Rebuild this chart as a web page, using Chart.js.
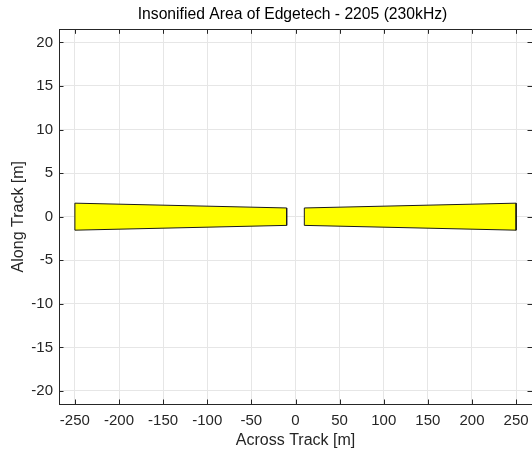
<!DOCTYPE html>
<html>
<head>
<meta charset="utf-8">
<script src="https://cdn.jsdelivr.net/npm/chart.js@4.4.1/dist/chart.umd.min.js"></script>
<style>
  html, body { margin: 0; padding: 0; background: #fff; }
  canvas { display: block; }
</style>
</head>
<body>
<canvas id="beamChart" width="532" height="452"></canvas>
<script>
// axis ticks
const xTicks = [-250, -200, -150, -100, -50, 0, 50, 100, 150, 200, 250];
const yTicks = [-20, -15, -10, -5, 0, 5, 10, 15, 20];

// port / starboard beam footprints (closed polygons, metres)
const portX = [-250, -10, -10, -250, -250];
const portY = [1.55, 1.0, -1.0, -1.55, 1.55];
const stbdX = [10, 250, 250, 10, 10];
const stbdY = [1.0, 1.55, -1.55, -1.0, 1.0];

const axisColor = "#262626";
const gridColor = "#e6e6e6";
const fontFamily = "'Liberation Sans', Arial, sans-serif";

function toPoints(xs, ys) {
    return xs.map((x, i) => ({ x: x, y: ys[i] }));
}

function beam(xs, ys) {
    return {
        data: toPoints(xs, ys),
        showLine: true,
        pointRadius: 0,
        borderColor: "#1a1a1a",
        borderWidth: 1,
        backgroundColor: "#ffff00",
        fill: "shape",
        tension: 0
    };
}

// MATLAB style box with inward tick marks, title centred over the axes
const boxPlugin = {
    id: "box",
    afterLayout(chart) {
        const t = chart.titleBlock;
        if (t) {
            t.left = chart.chartArea.left - 6;
            t.right = chart.chartArea.right;
        }
    },
    afterDraw(chart) {
        const ctx = chart.ctx;
        const a = chart.chartArea;
        const xs = chart.scales.x;
        const ys = chart.scales.y;
        const len = 4.5;
        ctx.save();
        ctx.strokeStyle = axisColor;
        ctx.lineWidth = 1;
        ctx.beginPath();
        xTicks.forEach(v => {
            const px = Math.round(xs.getPixelForValue(v)) + 0.5;
            ctx.moveTo(px, a.bottom); ctx.lineTo(px, a.bottom - len);
            ctx.moveTo(px, a.top); ctx.lineTo(px, a.top + len);
        });
        yTicks.forEach(v => {
            const py = Math.round(ys.getPixelForValue(v)) + 0.5;
            ctx.moveTo(a.left, py); ctx.lineTo(a.left + len, py);
            ctx.moveTo(a.right, py); ctx.lineTo(a.right - len, py);
        });
        ctx.stroke();
        ctx.strokeRect(Math.round(a.left) + 0.5, Math.round(a.top) + 0.5,
            Math.round(a.right - a.left), Math.round(a.bottom - a.top));
        ctx.restore();
    }
};

new Chart(document.getElementById("beamChart"), {
    type: "scatter",
    data: {
        datasets: [beam(portX, portY), beam(stbdX, stbdY)]
    },
    options: {
        responsive: false,
        animation: false,
        layout: { padding: 0 },
        plugins: {
            legend: { display: false },
            tooltip: { enabled: false },
            title: {
                display: true,
                text: "Insonified Area of Edgetech - 2205 (230kHz)",
                color: "#000",
                font: { family: fontFamily, size: 15.7, weight: "normal" },
                padding: { top: 5.6, bottom: 4.9 }
            }
        },
        scales: {
            x: {
                type: "linear",
                min: -268,
                max: 268,
                afterBuildTicks: s => { s.ticks = xTicks.map(v => ({ value: v })); },
                afterFit: s => { s.height = 48; s.paddingLeft = 0; s.paddingRight = 0; },
                ticks: {
                    color: axisColor,
                    font: { family: fontFamily, size: 15 },
                    padding: 8,
                    maxRotation: 0
                },
                grid: { color: gridColor, drawTicks: false },
                border: { display: false },
                title: {
                    display: true,
                    text: "Across Track [m]",
                    color: axisColor,
                    font: { family: fontFamily, size: 16 },
                    padding: { top: 0, bottom: 1.5 }
                }
            },
            y: {
                type: "linear",
                min: -21.5,
                max: 21.5,
                afterBuildTicks: s => { s.ticks = yTicks.map(v => ({ value: v })); },
                afterFit: s => { s.width = 59; s.paddingTop = 0; s.paddingBottom = 0; },
                ticks: {
                    color: axisColor,
                    font: { family: fontFamily, size: 15 },
                    padding: 6
                },
                grid: { color: gridColor, drawTicks: false },
                border: { display: false },
                title: {
                    display: true,
                    text: "Along Track [m]",
                    color: axisColor,
                    font: { family: fontFamily, size: 16 },
                    padding: { top: 9, bottom: 0 }
                }
            }
        }
    },
    plugins: [boxPlugin]
});
</script>
</body>
</html>
